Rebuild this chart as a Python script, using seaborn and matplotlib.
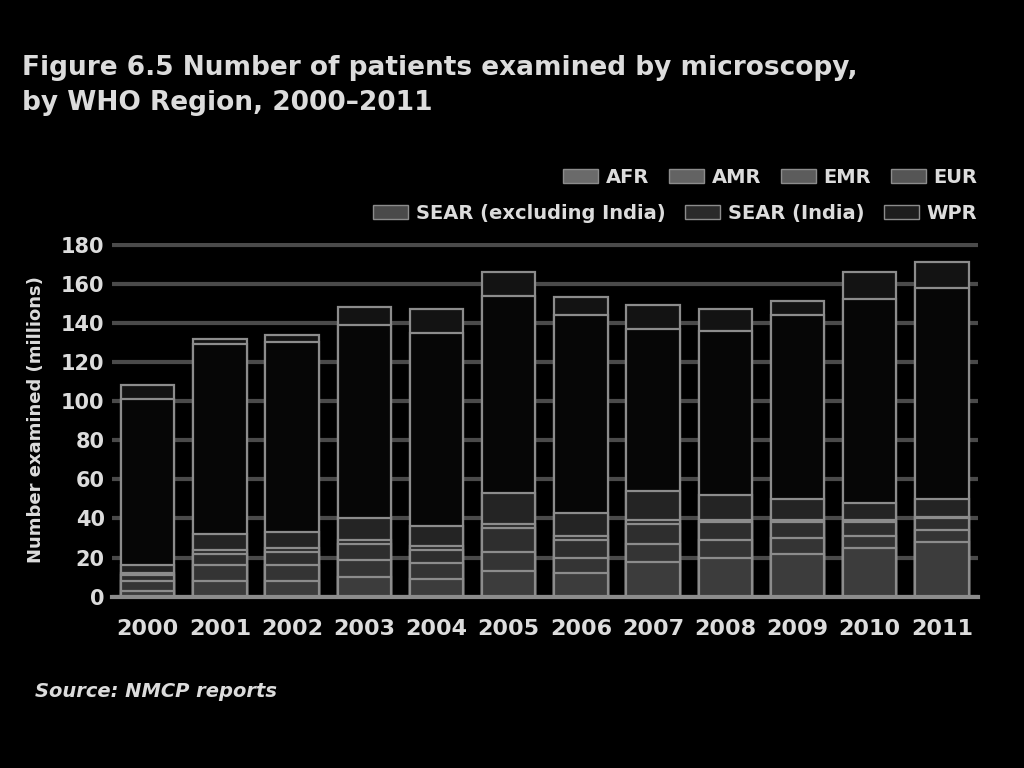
import numpy as np
import pandas as pd
import matplotlib
matplotlib.use("Agg")
import matplotlib.pyplot as plt
from matplotlib.patches import Patch
import seaborn as sns

# Patients examined by microscopy (millions)
years = ['2000', '2001', '2002', '2003', '2004', '2005',
         '2006', '2007', '2008', '2009', '2010', '2011']
afr = [3, 8, 8, 10, 9, 13, 12, 18, 20, 22, 25, 28]
amr = [5, 8, 8, 9, 8, 10, 8, 9, 9, 8, 6, 6]
emr = [3, 6, 7, 8, 7, 12, 9, 10, 9, 8, 7, 6]
eur = [1, 2, 2, 2, 2, 2, 2, 2, 1, 1, 1, 1]
sear_ex = [4, 8, 8, 11, 10, 16, 12, 15, 13, 11, 9, 9]
sear_in = [85, 97, 97, 99, 99, 101, 101, 83, 84, 94, 104, 108]
wpr = [7, 3, 4, 9, 12, 12, 9, 12, 11, 7, 14, 13]

regions = ['AFR', 'AMR', 'EMR', 'EUR', 'SEAR (excluding India)', 'SEAR (India)', 'WPR']
series = [afr, amr, emr, eur, sear_ex, sear_in, wpr]
fills = ['#3c3c3c', '#343434', '#2e2e2e', '#292929', '#242424', '#060606', '#131313']
legend_cols = ['#6a6a6a', '#636363', '#5c5c5c', '#555555', '#4a4a4a', '#2a2a2a', '#1e1e1e']

df = pd.DataFrame(dict(zip(regions, series)), index=years)
cum = df.cumsum(axis=1)

sns.set_theme(style="dark")
plt.rcParams['font.family'] = ['DejaVu Sans']
txt = '#dcdcdc'

fig = plt.figure(figsize=(10.24, 7.68), dpi=100, facecolor='black')
ax = fig.add_axes([0.109, 0.223, 0.846, 0.461])
ax.set_facecolor('black')

# draw the stack from the top down so each bar covers the one above its top
for i in range(len(regions) - 1, -1, -1):
    sns.barplot(x=years, y=cum[regions[i]].values, color=fills[i], width=0.74,
                edgecolor='#8c8c8c', linewidth=1.6, saturation=1, ax=ax)

ax.set_ylim(0, 181)
ax.set_yticks(np.arange(0, 181, 20))
ax.set_axisbelow(True)
ax.yaxis.grid(True, color='#4a4a4a', linewidth=3)
ax.xaxis.grid(False)
for s in ['top', 'right', 'left']:
    ax.spines[s].set_visible(False)
ax.spines['bottom'].set_visible(True)
ax.spines['bottom'].set_color('#8c8c8c')
ax.spines['bottom'].set_linewidth(3)
ax.tick_params(colors=txt, labelsize=16, length=0)
ax.tick_params(axis='y', labelsize=15, pad=5)
ax.tick_params(axis='x', pad=16)
for lab in ax.get_xticklabels() + ax.get_yticklabels():
    lab.set_fontweight('bold')
    lab.set_color(txt)
ax.set_xlabel('')
ax.set_ylabel('Number examined (millions)', color=txt, fontsize=13,
              fontweight='bold', labelpad=12)

fig.text(0.021, 0.928, 'Figure 6.5 Number of patients examined by microscopy,\nby WHO Region, 2000\u20132011',
         color=txt, fontsize=19, fontweight='bold', va='top', linespacing=1.45)

h1 = [Patch(facecolor=legend_cols[i], edgecolor='#8c8c8c', label=regions[i]) for i in range(4)]
h2 = [Patch(facecolor=legend_cols[i], edgecolor='#8c8c8c', label=regions[i]) for i in range(4, 7)]
leg_kw = dict(frameon=False, labelcolor=txt, handlelength=1.8, handleheight=0.7,
              handletextpad=0.4, columnspacing=1.0, borderaxespad=0,
              prop={'size': 14, 'weight': 'bold'})
fig.legend(handles=h1, ncol=4, loc='upper right', bbox_to_anchor=(0.962, 0.792), **leg_kw)
fig.legend(handles=h2, ncol=3, loc='upper right', bbox_to_anchor=(0.962, 0.745), **leg_kw)

fig.text(0.034, 0.093, 'Source: NMCP reports', color=txt, fontsize=14,
         fontweight='bold', fontstyle='italic')

fig.savefig('out.png', dpi=100, facecolor='black')
